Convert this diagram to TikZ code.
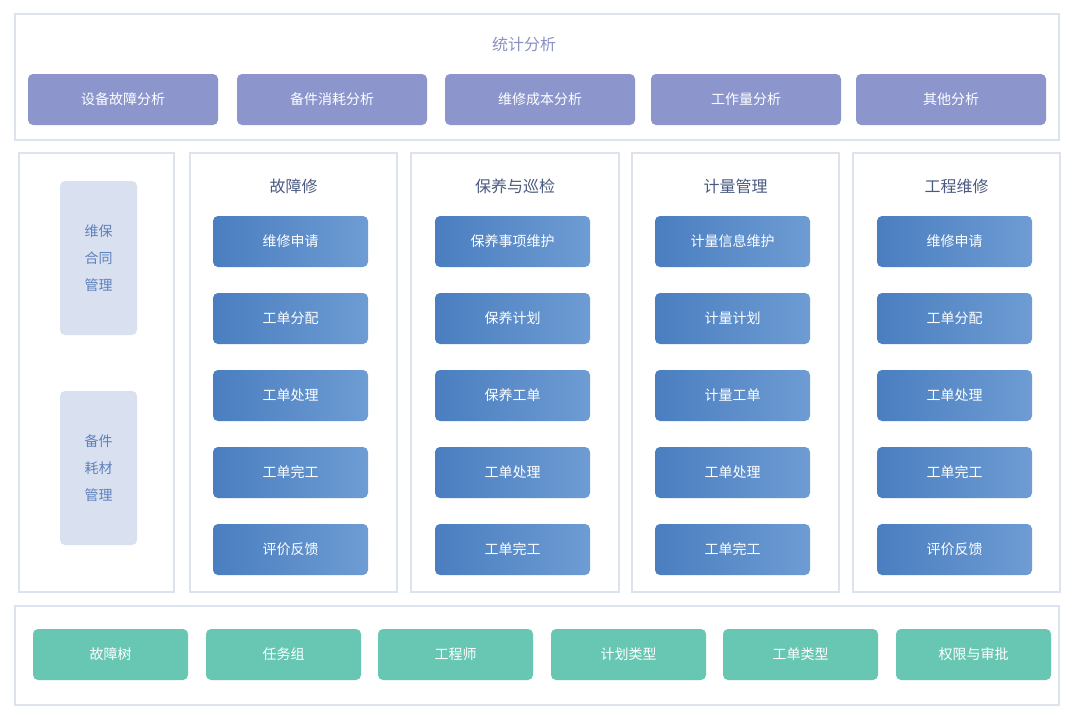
\documentclass[tikz,border=0pt]{standalone}
\usepackage{fontspec}
\setmainfont{Noto Sans CJK SC}
\definecolor{pan}{HTML}{DCE2EE}
\definecolor{pur}{HTML}{8C96CD}
\definecolor{ttl}{HTML}{8A92C4}
\definecolor{bl}{HTML}{4A7EC0}
\definecolor{br}{HTML}{6E9CD3}
\definecolor{lt}{HTML}{D9E1F1}
\definecolor{ltt}{HTML}{5E80BC}
\definecolor{grn}{HTML}{68C7B2}
\definecolor{hd}{HTML}{4A5A80}
\tikzset{
 panel/.style={draw=pan,line width=1.2pt,fill=white},
 btn/.style={rounded corners=5pt,text=white,font=\fontsize{14}{16}\selectfont},
}
\newcommand{\bx}[6]{\node[#1,minimum width=#4pt-#2pt,minimum height=51pt,inner sep=0] (#6) at ({(#2+#4)/2*1pt},{-#3pt-25.5pt}) {#5};}
\begin{document}
\begin{tikzpicture}[x=1pt,y=-1pt]
\useasboundingbox (0,0) rectangle (1081,720);
\fill[white] (0,0) rectangle (1081,720);
\draw[panel] (15,14) rectangle (1059,140);
\node[text=ttl,font=\fontsize{16}{18}\selectfont] (t0) at (524,44) {统计分析};
\foreach \a/\b/\t [count=\i] in {28/218/设备故障分析,237/427/备件消耗分析,445/635/维修成本分析,651/841/工作量分析,856/1046/其他分析}{
 \fill[pur,rounded corners=5pt] (\a,74) rectangle (\b,125);
 \node[text=white,font=\fontsize{14}{16}\selectfont] (s\i) at ({(\a+\b)/2},99.5) {\t};}
\draw[panel] (19,153) rectangle (174,592);
\fill[lt,rounded corners=5pt] (60,181) rectangle (137,335);
\fill[lt,rounded corners=5pt] (60,391) rectangle (137,545);
\node[text=ltt,align=center,font=\fontsize{14}{27}\selectfont] (l1) at (98.5,258) {维保\\合同\\管理};
\node[text=ltt,align=center,font=\fontsize{14}{27}\selectfont] (l2) at (98.5,468) {备件\\耗材\\管理};
\foreach \pa/\pb/\ba/\t/\c [count=\j] in {190/397/213/故障修/{维修申请,工单分配,工单处理,工单完工,评价反馈},411/619/435/保养与巡检/{保养事项维护,保养计划,保养工单,工单处理,工单完工},632/839/655/计量管理/{计量信息维护,计量计划,计量工单,工单处理,工单完工},853/1060/877/工程维修/{维修申请,工单分配,工单处理,工单完工,评价反馈}}{
 \draw[panel] (\pa,153) rectangle (\pb,592);
 \node[text=hd,font=\fontsize{16}{18}\selectfont] (h\j) at ({(\pa+\pb)/2},186) {\t};
 \foreach \s [count=\k] in \c {
  \pgfmathsetmacro\yy{216+77*(\k-1)}
  \shade[left color=bl,right color=br,rounded corners=5pt] (\ba,\yy) rectangle (\ba+155,\yy+51);
  \node[text=white,font=\fontsize{14}{16}\selectfont] (m\j\k) at (\ba+77.5,\yy+25.5) {\s};
 }}
\draw[panel] (15,606) rectangle (1059,705);
\foreach \a/\t [count=\i] in {33/故障树,206/任务组,378/工程师,551/计划类型,723/工单类型,896/权限与审批}{
 \fill[grn,rounded corners=5pt] (\a,629) rectangle (\a+155,680);
 \node[text=white,font=\fontsize{14}{16}\selectfont] (b\i) at (\a+77.5,654.5) {\t};}
\end{tikzpicture}
\end{document}
